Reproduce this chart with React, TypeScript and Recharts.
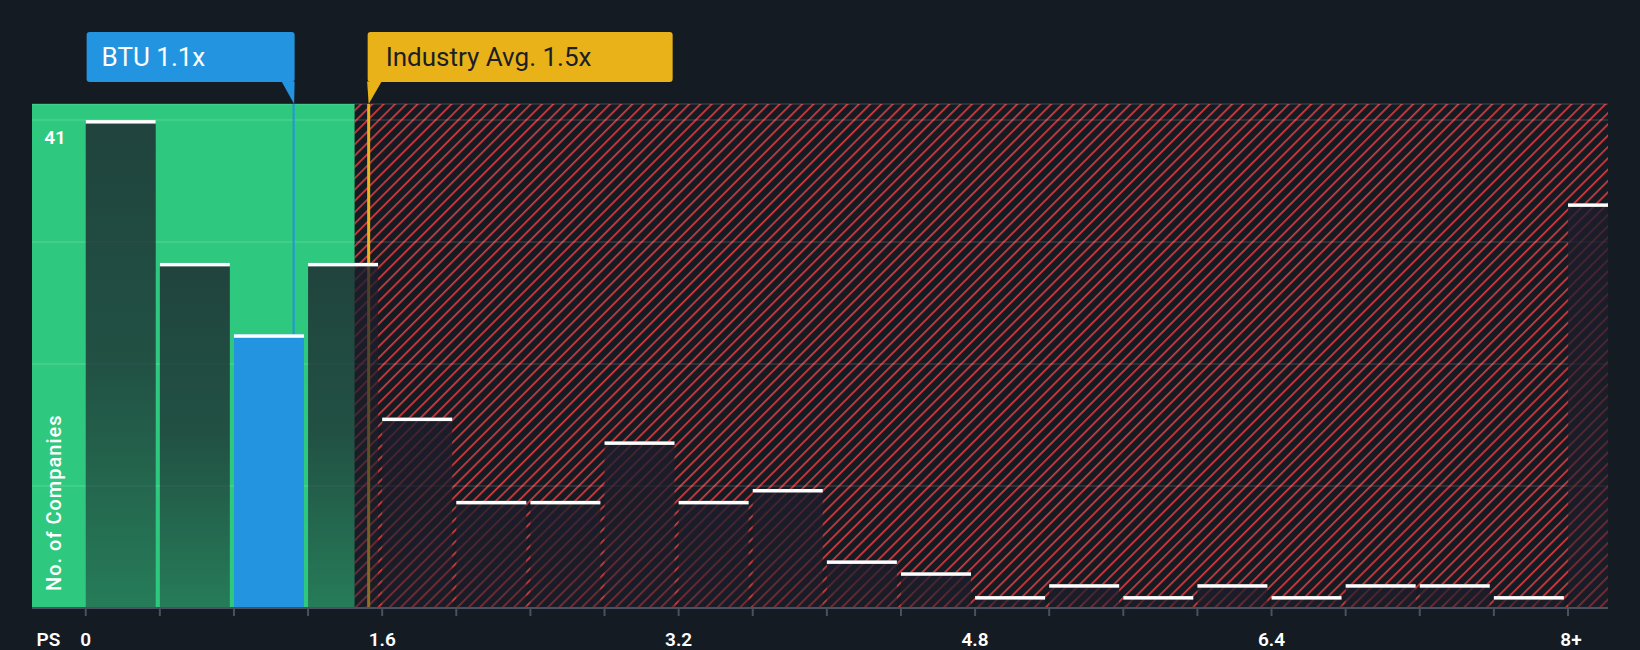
import React from 'react';
import {
  ComposedChart,
  Bar,
  XAxis,
  YAxis,
  CartesianGrid,
  ReferenceArea,
  ReferenceLine,
  Label,
} from 'recharts';

// ---------- data ----------
const binCenters = [0.2, 0.6, 1.0, 1.4, 1.8, 2.2, 2.6, 3.0, 3.4, 3.8, 4.2, 4.6, 5.0, 5.4, 5.8, 6.2, 6.6, 7.0, 7.4, 7.8, 8.2];
const companyCounts = [41, 29, 23, 29, 16, 9, 9, 14, 9, 10, 4, 3, 1, 2, 1, 2, 1, 2, 2, 1, 34];
const highlightedBin = 2; // bin containing BTU
const xTicks = [0, 0.4, 0.8, 1.2, 1.6, 2, 2.4, 2.8, 3.2, 3.6, 4, 4.4, 4.8, 5.2, 5.6, 6, 6.4, 6.8, 7.2, 7.6, 8];
const xLabelValues = [0, 1.6, 3.2, 4.8, 6.4, 8];
const xLabelTexts = ['0', '1.6', '3.2', '4.8', '6.4', '8+'];
const yTicks = [0, 10.25, 20.5, 30.75, 41];
const yLabelValues = [41];
const xDomain = [-0.29, 8.216];
const yDomain = [0, 42.35];
const companyValue = 1.122;
const companyLabel = 'BTU 1.1x';
const industryValue = 1.527;
const industryLabel = 'Industry Avg. 1.5x';
const greenEnd = 1.452;

const data = binCenters.map((x, i) => ({
  x,
  count: companyCounts[i],
  highlight: i === highlightedBin,
  open: i === binCenters.length - 1,
}));

// ---------- styles ----------
const BG = '#151b23';
const GREEN = '#2ec97e';
const RED = '#d93a3d';
const BLUE = '#2394df';
const GOLD = '#eab219';
const BAR_DARK = '#1c1e2b';
const AXIS = '#4a505d';
const FONT = 'Roboto, sans-serif';
const BAR_GAP = 4;

const BarShape = (props: any) => {
  const { x, y, width, height, payload } = props;
  if (!height || height <= 0) return null;
  const w = payload.open ? width : width - BAR_GAP;
  return (
    <g>
      <rect x={x} y={y} width={w} height={height} fill={payload.highlight ? BLUE : 'url(#barFade)'} />
      <rect x={x} y={y} width={w} height={3.5} fill="#ffffff" />
    </g>
  );
};

const XTick = (props: any) => {
  const { x, y, payload } = props;
  const idx = xLabelValues.findIndex((v) => Math.abs(v - payload.value) < 1e-6);
  if (idx < 0) return <g />;
  const isLast = idx === xLabelValues.length - 1;
  return (
    <text x={x + (isLast ? 3 : 0)} y={y} dy="0.71em" textAnchor="middle" fill="#ffffff" fontSize={19} fontWeight={600} fontFamily={FONT}>
      {xLabelTexts[idx]}
    </text>
  );
};

const YTick = (props: any) => {
  const { x, y, payload } = props;
  if (!yLabelValues.some((v) => Math.abs(v - payload.value) < 1e-6)) return <g />;
  return (
    <text x={x + 23} y={y + 23.5} textAnchor="middle" fill="#ffffff" fontSize={19} fontWeight={600} fontFamily={FONT}>
      {payload.value}
    </text>
  );
};

const PSLabel = (props: any) => {
  const vb = props.viewBox || {};
  return (
    <text x={vb.x + 16.5} y={vb.y + 38} textAnchor="middle" fill="#ffffff" fontSize={19} fontWeight={600} fontFamily={FONT}>
      PS
    </text>
  );
};

const YLabel = (props: any) => {
  const vb = props.viewBox || {};
  const right = vb.x + vb.width;
  return (
    <text
      transform={`translate(${right + 29}, ${vb.y + vb.height - 17}) rotate(-90)`}
      textAnchor="start"
      fill="#ffffff"
      fontSize={20}
      fontWeight={500}
      letterSpacing={1}
      fontFamily={FONT}
    >
      No. of Companies
    </text>
  );
};

const makeCallout = (text: string, fill: string, textColor: string, side: 'left' | 'right', boxW: number) => (props: any) => {
  const vb = props.viewBox || {};
  const lx = vb.x;
  const top = vb.y;
  const boxTop = top - 72;
  const boxBottom = top - 22;
  const boxX = side === 'left' ? lx + 1 - boxW : lx - 1;
  const pointer =
    side === 'left'
      ? `${lx - 12},${boxBottom - 0.5} ${lx + 1},${boxBottom - 0.5} ${lx + 0.5},${top}`
      : `${lx - 1.5},${boxBottom - 0.5} ${lx + 13},${boxBottom - 0.5} ${lx},${top}`;
  const textX = side === 'left' ? boxX + 15 : lx + 17;
  return (
    <g>
      <rect x={boxX} y={boxTop} width={boxW} height={boxBottom - boxTop} rx={3} ry={3} fill={fill} />
      <polygon points={pointer} fill={fill} />
      <text x={textX} y={boxTop + 34} fill={textColor} fontSize={26} fontFamily={FONT}>
        {text}
      </text>
    </g>
  );
};

const BTUCallout = makeCallout(companyLabel, BLUE, '#ffffff', 'left', 208);
const IndustryCallout = makeCallout(industryLabel, GOLD, '#1a1f28', 'right', 305);

export default function App() {
  return (
    <div style={{ position: 'fixed', left: 0, top: 0, width: 1640, height: 650, background: BG, fontFamily: FONT }}>
      <ComposedChart
        width={1640}
        height={650}
        data={data}
        margin={{ top: 104, right: 32, bottom: 2, left: 31 }}
        barCategoryGap={0}
        barGap={0}
      >
        <defs>
          <pattern id="hatch" patternUnits="userSpaceOnUse" width="8" height="8" patternTransform="rotate(45)">
            <rect x="0" y="0" width="8" height="8" fill={BG} />
            <rect x="0" y="0" width="1.7" height="8" fill={RED} />
          </pattern>
          <linearGradient id="barFade" x1="0" y1="0" x2="0" y2="1">
            <stop offset="0" stopColor={BAR_DARK} stopOpacity={0.78} />
            <stop offset="0.5" stopColor={BAR_DARK} stopOpacity={0.7} />
            <stop offset="1" stopColor={BAR_DARK} stopOpacity={0.45} />
          </linearGradient>
        </defs>
        <ReferenceArea x2={greenEnd} fill={GREEN} fillOpacity={1} stroke="none" ifOverflow="visible" zIndex={-300} />
        <ReferenceArea x1={greenEnd} fill="url(#hatch)" fillOpacity={1} stroke="none" ifOverflow="visible" zIndex={-300} />
        <CartesianGrid vertical={false} stroke="rgba(255,255,255,0.1)" strokeWidth={2} zIndex={-200} />
        <ReferenceLine x={industryValue} stroke={GOLD} strokeWidth={3} label={IndustryCallout} zIndex={-100} />
        <ReferenceLine x={companyValue} stroke={BLUE} strokeWidth={2} label={BTUCallout} zIndex={-100} />
        <Bar dataKey="count" shape={BarShape} isAnimationActive={false} />
        <XAxis
          type="number"
          dataKey="x"
          domain={xDomain}
          ticks={xTicks}
          interval={0}
          allowDataOverflow
          height={40}
          axisLine={{ stroke: AXIS, strokeWidth: 2 }}
          tickLine={{ stroke: AXIS, strokeWidth: 2 }}
          tickSize={8}
          tickMargin={17}
          tick={XTick}
        >
          <Label content={PSLabel} />
        </XAxis>
        <YAxis
          type="number"
          domain={yDomain}
          ticks={yTicks}
          interval={0}
          width={1}
          axisLine={false}
          tickLine={false}
          tickSize={0}
          tickMargin={0}
          tick={YTick}
          zIndex={600}
        >
          <Label content={YLabel} />
        </YAxis>
      </ComposedChart>
    </div>
  );
}
